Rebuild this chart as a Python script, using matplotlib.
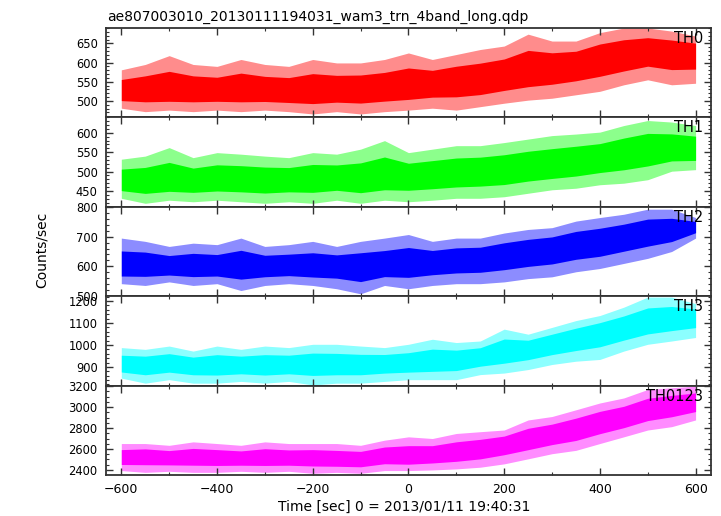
import numpy as np
import matplotlib
matplotlib.use('Agg')
import matplotlib.pyplot as plt
from matplotlib.ticker import MultipleLocator, AutoMinorLocator

plt.rcParams['font.family'] = ['DejaVu Sans']

# time grid of the read-off envelope (sec from 2013/01/11 19:40:31)
t = [-600, -550, -500, -450, -400, -350, -300, -250, -200, -150, -100, -50, 0,
     50, 100, 150, 200, 250, 300, 350, 400, 450, 500, 550, 600]

# TH0
th0_mid = [525, 529, 527, 529, 527, 529, 526, 525, 526, 527, 529, 533, 538,
           545, 553, 555, 568, 580, 588, 597, 612, 622, 634, 630, 628]
th0_hi = [581, 595, 618, 595, 590, 608, 595, 590, 608, 599, 599, 608, 625,
          608, 621, 634, 643, 674, 656, 656, 678, 690, 690, 682, 669]
th0_lo = [481, 472, 476, 472, 476, 472, 476, 472, 466, 472, 466, 472, 476,
          481, 476, 485, 494, 502, 507, 516, 525, 542, 555, 542, 546]

# TH1
th1_mid = [475, 475, 477, 476, 479, 479, 477, 479, 481, 483, 479, 486, 488,
           492, 496, 501, 505, 514, 518, 527, 536, 547, 558, 560, 558]
th1_hi = [532, 540, 562, 536, 549, 545, 540, 536, 549, 545, 558, 580, 549,
          558, 567, 567, 575, 584, 593, 597, 602, 619, 632, 628, 619]
th1_lo = [431, 418, 426, 422, 426, 422, 418, 422, 418, 426, 418, 426, 422,
          426, 431, 431, 435, 444, 453, 457, 466, 470, 479, 501, 505]

# TH2
th2_mid = [599, 604, 599, 602, 599, 604, 601, 602, 599, 604, 599, 602, 610,
           616, 622, 627, 639, 650, 661, 675, 684, 701, 718, 724, 735]
th2_hi = [695, 684, 667, 678, 673, 695, 667, 673, 684, 667, 684, 695, 707,
          684, 695, 695, 712, 724, 730, 752, 764, 775, 792, 792, 764]
th2_lo = [542, 536, 548, 536, 542, 519, 536, 542, 536, 525, 508, 536, 525,
          536, 542, 542, 548, 559, 565, 582, 593, 610, 627, 650, 695]

# TH3
th3_mid = [911, 911, 918, 911, 908, 911, 908, 911, 914, 911, 911, 918, 918,
           926, 934, 950, 972, 988, 1011, 1034, 1062, 1083, 1108, 1123, 1134]
th3_hi = [988, 980, 995, 972, 995, 980, 995, 988, 1003, 1003, 995, 988, 1003,
          1026, 1011, 1018, 1072, 1049, 1080, 1111, 1134, 1172, 1218, 1218, 1188]
th3_lo = [849, 826, 842, 826, 826, 834, 826, 834, 818, 826, 826, 834, 842,
          842, 842, 865, 872, 888, 911, 926, 934, 972, 1003, 1018, 1034]

# TH0123
th0123_mid = [2523, 2539, 2523, 2529, 2523, 2516, 2523, 2516, 2523, 2506, 2506,
              2539, 2529, 2548, 2571, 2603, 2652, 2700, 2748, 2797, 2861, 2910,
              2981, 3023, 3055]
th0123_hi = [2652, 2652, 2635, 2668, 2652, 2635, 2668, 2652, 2652, 2652, 2635,
             2684, 2716, 2700, 2748, 2765, 2781, 2877, 2910, 2974, 3039, 3087,
             3168, 3184, 3200]
th0123_lo = [2394, 2377, 2387, 2377, 2377, 2387, 2377, 2387, 2368, 2377, 2368,
             2394, 2394, 2400, 2410, 2426, 2458, 2506, 2555, 2587, 2652, 2716,
             2781, 2813, 2877]

names = ['TH0', 'TH1', 'TH2', 'TH3', 'TH0123']
colors = ['#ff0000', '#00ff00', '#0000ff', '#00ffff', '#ff00ff']
mids = [th0_mid, th1_mid, th2_mid, th3_mid, th0123_mid]
his = [th0_hi, th1_hi, th2_hi, th3_hi, th0123_hi]
los = [th0_lo, th1_lo, th2_lo, th3_lo, th0123_lo]
ylims = [(457, 690), (409, 640), (500, 800), (815, 1222), (2352, 3205)]
ysteps = [50, 50, 100, 100, 200]

fig, axes = plt.subplots(5, 1, figsize=(7.21, 5.16), dpi=100, sharex=True)
fig.subplots_adjust(left=0.147, right=0.986, top=0.9457, bottom=0.0795, hspace=0)

for i, ax in enumerate(axes):
    mid = np.array(mids[i], float)
    hi = np.array(his[i], float)
    lo = np.array(los[i], float)
    ax.fill_between(t, lo, hi, color=colors[i], alpha=0.45, lw=0)
    ax.fill_between(t, mid - 0.55 * (mid - lo), mid + 0.55 * (hi - mid),
                    color=colors[i], lw=0)
    ax.set_ylim(ylims[i])
    ax.set_xlim(-632, 632)
    ax.yaxis.set_major_locator(MultipleLocator(ysteps[i]))
    ax.yaxis.set_minor_locator(AutoMinorLocator())
    ax.xaxis.set_major_locator(MultipleLocator(200))
    ax.xaxis.set_minor_locator(MultipleLocator(100))
    ax.tick_params(which='both', direction='in', top=True, right=True,
                   color='#333333', labelsize=8.3, pad=6)
    ax.tick_params(which='major', length=5, width=1)
    ax.tick_params(which='minor', length=2.5, width=0.8)
    ax.tick_params(axis='x', labelsize=9)
    for s in ax.spines.values():
        s.set_linewidth(1.3)
        s.set_color('#333333')
    ax.text(0.987, 0.832, names[i], transform=ax.transAxes, ha='right',
            va='baseline', fontsize=10.5)

fig.text(0.148, 1 - 21 / 516, 'ae807003010_20130111194031_wam3_trn_4band_long.qdp',
         ha='left', va='baseline', fontsize=10)
fig.text(0.058, 0.515, 'Counts/sec', rotation=90, ha='center', va='center',
         fontsize=10)
fig.text(0.56, 1 - 511 / 516, 'Time [sec] 0 = 2013/01/11 19:40:31',
         ha='center', va='baseline', fontsize=10)

plt.savefig('out.png', dpi=100)
